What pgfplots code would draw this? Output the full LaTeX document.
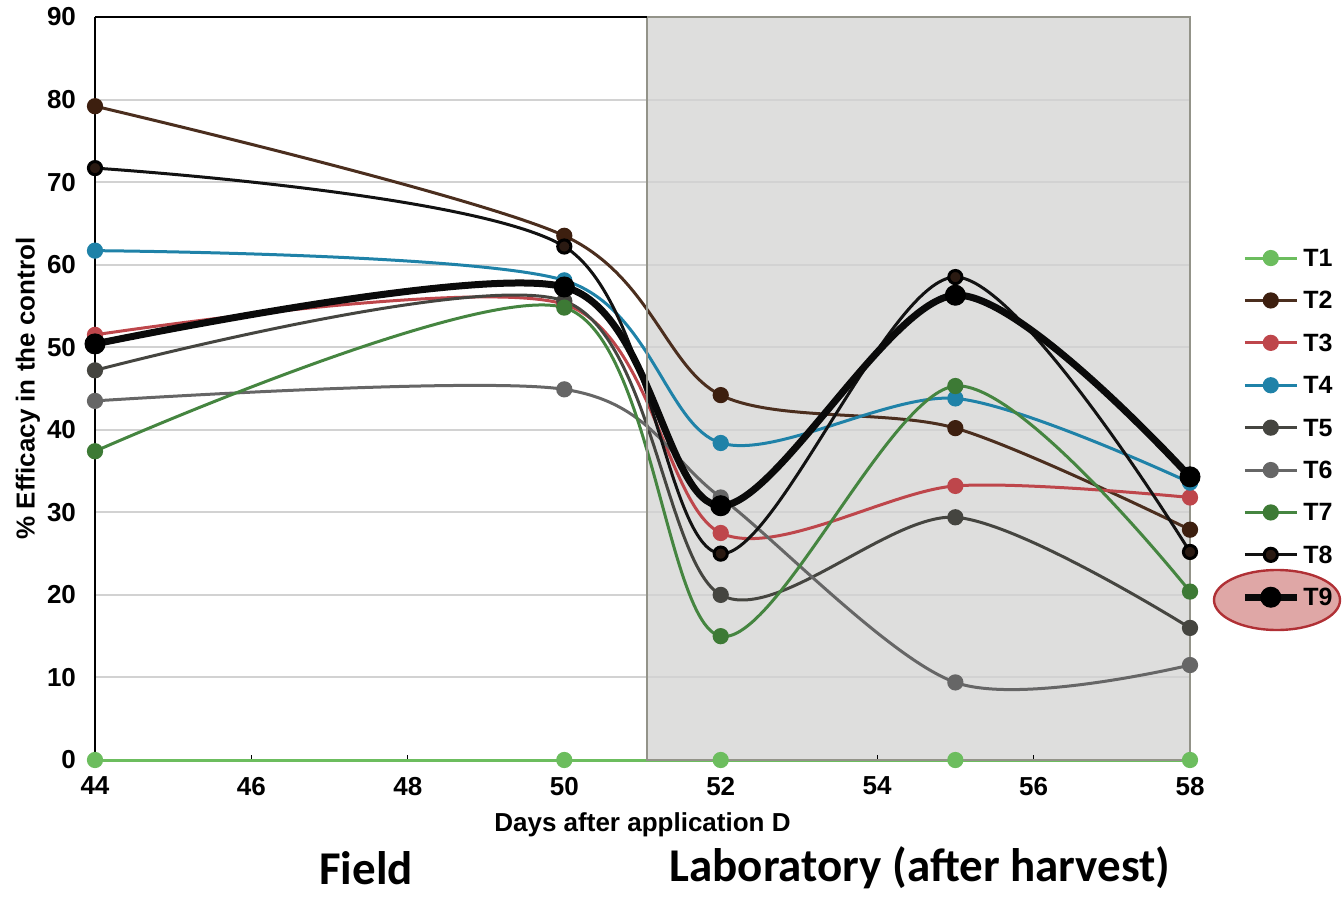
\documentclass[border=0pt]{standalone}
\usepackage{fontspec}
\setmainfont{Liberation Sans}
\newfontfamily\calib{Carlito}
\usepackage{pgfplots}
\pgfplotsset{compat=1.18}
\definecolor{cT1}{HTML}{6CBD5E}
\definecolor{cT2}{HTML}{4B2E1E}
\definecolor{mT2}{HTML}{3D1F0F}
\definecolor{cT3}{HTML}{BE464B}
\definecolor{cT4}{HTML}{1F82A8}
\definecolor{cT5}{HTML}{454540}
\definecolor{cT6}{HTML}{666666}
\definecolor{cT7}{HTML}{458540}
\definecolor{mT7}{HTML}{3D7A35}
\definecolor{cT8}{HTML}{121212}
\definecolor{mT8}{HTML}{2A1A12}
\definecolor{cT9}{HTML}{0A0A0A}
\definecolor{boxfill}{HTML}{DEDEDD}
\definecolor{boxdraw}{HTML}{939389}
\definecolor{gridc}{HTML}{D2D2D2}
\definecolor{ellfill}{HTML}{C0504D}
\definecolor{elldraw}{HTML}{B03035}
\begin{document}
\begin{tikzpicture}
\begin{axis}[
  at={(0pt,0pt)}, anchor=south west,
  scale only axis, width=547.5pt, height=371.5pt,
  set layers,
  xmin=44, xmax=58, ymin=0, ymax=90,
  xtick={44,46,...,58}, ytick={0,10,...,90},
  axis x line*=bottom, axis y line*=left,
  x axis line style={draw=gridc, -},
  y axis line style={draw=black, line width=1pt, -},
  ymajorgrids, grid style={draw=gridc, line width=1pt},
  xtick align=inside, major tick length=2.5pt,
  xtick style={draw=black, line width=0.6pt},
  ytick style={draw=none},
  /pgf/number format/assume math mode=true,
  tick label style={font=\fontsize{13}{15}\selectfont\bfseries},
  yticklabel style={xshift=-6pt},
  xticklabel style={yshift=-5pt},
  xlabel={Days after application D},
  ylabel={\% Efficacy in the control},
  label style={font=\fontsize{13}{15}\selectfont\bfseries},
  xlabel style={at={(axis description cs:0.5,-0.0875)}, anchor=center},
  ylabel style={at={(axis description cs:-0.0612,0.5)}, anchor=center},
  legend image code/.code={\draw[mark repeat=2,mark phase=2,#1] plot coordinates {(0pt,0pt) (13pt,0pt) (26pt,0pt)};},
  legend style={at={(axis description cs:1.041,0.697)}, anchor=north west, draw=none, fill=none,
    font=\fontsize{12.5}{14}\selectfont\bfseries, row sep=9.7pt,
    nodes={inner sep=1.5pt, text height=8.5pt, text depth=0pt}},
  legend cell align=left,
  clip=false,
  tp/.style={smooth, tension=0.5, mark=*, line width=1.5pt, mark size=3.3pt},
]
\addplot[fill=boxfill, draw=none, mark=none, forget plot, on layer=axis background] coordinates {(51.06,0) (58,0) (58,90) (51.06,90)} \closedcycle;

\addplot[tp, color=cT1, mark options={fill=cT1, draw=cT1}] coordinates {(44,0) (50,0) (52,0) (55,0) (58,0)};
\addlegendentry{T1}
\addplot[tp, color=cT2, mark options={fill=mT2, draw=mT2}] coordinates {(44,79.2) (50,63.5) (52,44.2) (55,40.2) (58,27.9)};
\addlegendentry{T2}
\addplot[tp, color=cT3, mark options={fill=cT3, draw=cT3}] coordinates {(44,51.5) (50,55.2) (52,27.5) (55,33.2) (58,31.8)};
\addlegendentry{T3}
\addplot[tp, color=cT4, mark options={fill=cT4, draw=cT4}] coordinates {(44,61.7) (50,58.1) (52,38.4) (55,43.8) (58,33.6)};
\addlegendentry{T4}
\addplot[tp, color=cT5, mark options={fill=cT5, draw=cT5}] coordinates {(44,47.2) (50,55.6) (52,20.0) (55,29.4) (58,16.0)};
\addlegendentry{T5}
\addplot[tp, color=cT6, mark options={fill=cT6, draw=cT6}] coordinates {(44,43.5) (50,44.9) (52,31.8) (55,9.4) (58,11.5)};
\addlegendentry{T6}
\addplot[tp, color=cT7, mark options={fill=mT7, draw=mT7}] coordinates {(44,37.4) (50,54.8) (52,15.0) (55,45.3) (58,20.4)};
\addlegendentry{T7}
\addplot[tp, color=cT8, mark options={fill=mT8, draw=black}] coordinates {(44,71.7) (50,62.2) (52,25.0) (55,58.5) (58,25.2)};
\addlegendentry{T8}
\addplot[tp, color=cT9, line width=3.5pt, mark size=5pt, mark options={fill=black, draw=black, line width=0.5pt}] coordinates {(44,50.4) (50,57.3) (52,30.8) (55,56.3) (58,34.3)};
\addlegendentry{T9}

\draw[boxdraw, line width=1.2pt] (axis cs:51.06,0) rectangle (axis cs:58,90);
\draw[black, line width=1pt] (axis cs:44,90) -- (axis cs:51.06,90);
\node[font=\calib\fontsize{23.5}{26}\selectfont\bfseries, anchor=center, inner sep=0pt] at (axis description cs:0.2475,-0.145) {Field};
\node[font=\calib\fontsize{23.5}{26}\selectfont\bfseries, anchor=center, inner sep=0pt] at (axis description cs:0.7534,-0.145) {Laboratory (after harvest)};
\end{axis}
\draw[draw=elldraw, line width=1.2pt, fill=ellfill, fill opacity=0.5] (591pt,80pt) ellipse [x radius=31.5pt, y radius=15pt];
\pgfresetboundingbox
\useasboundingbox (-47.5pt,-68pt) rectangle (624.5pt,380pt);
\end{tikzpicture}
\end{document}
